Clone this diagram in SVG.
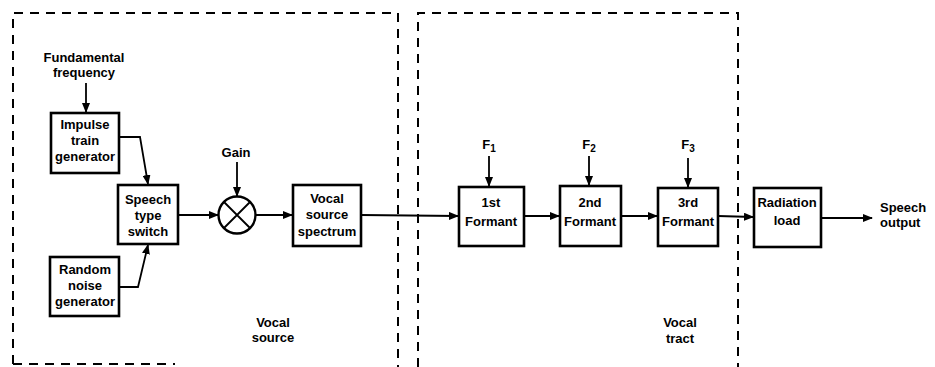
<svg xmlns="http://www.w3.org/2000/svg" width="935" height="367" viewBox="0 0 935 367">
<defs>
<marker id="ah" markerWidth="10" markerHeight="8" refX="9" refY="4" orient="auto" markerUnits="userSpaceOnUse">
<path d="M0,0 L10,4 L0,8 Z" fill="#000"/>
</marker>
<style>
.box{fill:#fff;stroke:#000;stroke-width:2.6}
.dash{fill:none;stroke:#000;stroke-width:2;stroke-dasharray:9 7}
.ln{fill:none;stroke:#000;stroke-width:1.8}
text{font-family:"Liberation Sans",Arial,sans-serif;font-weight:bold;font-size:13px;text-anchor:middle;fill:#000}
.lt{text-anchor:start}
</style>
</defs>
<rect width="935" height="367" fill="#fff"/>
<g id="regions">
<path class="dash" d="M13,364 L13,13 L398,13 L398,367"/>
<path class="dash" d="M13,364 L175,364"/>
<path class="dash" d="M418,367 L418,13 L738,13 L738,367"/>
</g>
<g id="connectors">
<path class="ln" d="M86,83 L86,112" marker-end="url(#ah)"/>
<path class="ln" d="M119,137 L140,137 L148,184" marker-end="url(#ah)"/>
<path class="ln" d="M119,287 L138,287 L148,245" marker-end="url(#ah)"/>
<path class="ln" d="M178,215 L218,215" marker-end="url(#ah)"/>
<path class="ln" d="M237,162 L237,196" marker-end="url(#ah)"/>
<path class="ln" d="M256,215 L292,215" marker-end="url(#ah)"/>
<path class="ln" d="M361,215 L458,216" marker-end="url(#ah)"/>
<path class="ln" d="M489,156 L489,186" marker-end="url(#ah)"/>
<path class="ln" d="M524,216 L559,216" marker-end="url(#ah)"/>
<path class="ln" d="M589,156 L589,185" marker-end="url(#ah)"/>
<path class="ln" d="M621,216 L657,216" marker-end="url(#ah)"/>
<path class="ln" d="M688,158 L688,187" marker-end="url(#ah)"/>
<path class="ln" d="M718,216 L753,217" marker-end="url(#ah)"/>
<path class="ln" d="M821,218 L872,218" marker-end="url(#ah)"/>
</g>
<g id="fundamental">
<text x="84" y="62">Fundamental</text>
<text x="84" y="77">frequency</text>
</g>
<g id="impulse">
<rect class="box" x="51" y="113" width="68" height="60"/>
<text x="85" y="129">Impulse</text>
<text x="85" y="145">train</text>
<text x="85" y="161">generator</text>
</g>
<g id="noise">
<rect class="box" x="50" y="257" width="69" height="59"/>
<text x="85" y="274">Random</text>
<text x="85" y="290">noise</text>
<text x="85" y="306">generator</text>
</g>
<g id="switch">
<rect class="box" x="118" y="185" width="60" height="59"/>
<text x="148" y="204">Speech</text>
<text x="148" y="220">type</text>
<text x="148" y="236">switch</text>
</g>
<g id="gain">
<text x="236" y="157">Gain</text>
<circle cx="237" cy="215" r="18.5" fill="#fff" stroke="#000" stroke-width="2.4"/>
<path class="ln" d="M224,202 L250,228 M250,202 L224,228" stroke-width="2.2"/>
</g>
<g id="spectrum">
<rect class="box" x="293" y="185" width="68" height="61"/>
<text x="327" y="203">Vocal</text>
<text x="327" y="219">source</text>
<text x="327" y="236">spectrum</text>
</g>
<g id="f1">
<text x="489" y="149">F<tspan font-size="10" dy="3">1</tspan></text>
<rect class="box" x="459" y="187" width="65" height="59"/>
<text x="491" y="207">1st</text>
<text x="491" y="226">Formant</text>
</g>
<g id="f2">
<text x="589" y="149">F<tspan font-size="10" dy="3">2</tspan></text>
<rect class="box" x="560" y="186" width="61" height="60"/>
<text x="590" y="207">2nd</text>
<text x="590" y="226">Formant</text>
</g>
<g id="f3">
<text x="688" y="149">F<tspan font-size="10" dy="3">3</tspan></text>
<rect class="box" x="658" y="188" width="60" height="58"/>
<text x="688" y="207">3rd</text>
<text x="688" y="226">Formant</text>
</g>
<g id="radiation">
<rect class="box" x="754" y="188" width="67" height="59"/>
<text x="787" y="207">Radiation</text>
<text x="787" y="225">load</text>
</g>
<g id="output">
<text class="lt" x="880" y="212">Speech</text>
<text class="lt" x="880" y="227">output</text>
</g>
<g id="labels">
<text x="273" y="327">Vocal</text>
<text x="273" y="342">source</text>
<text x="680" y="327">Vocal</text>
<text x="680" y="343">tract</text>
</g>
</svg>
